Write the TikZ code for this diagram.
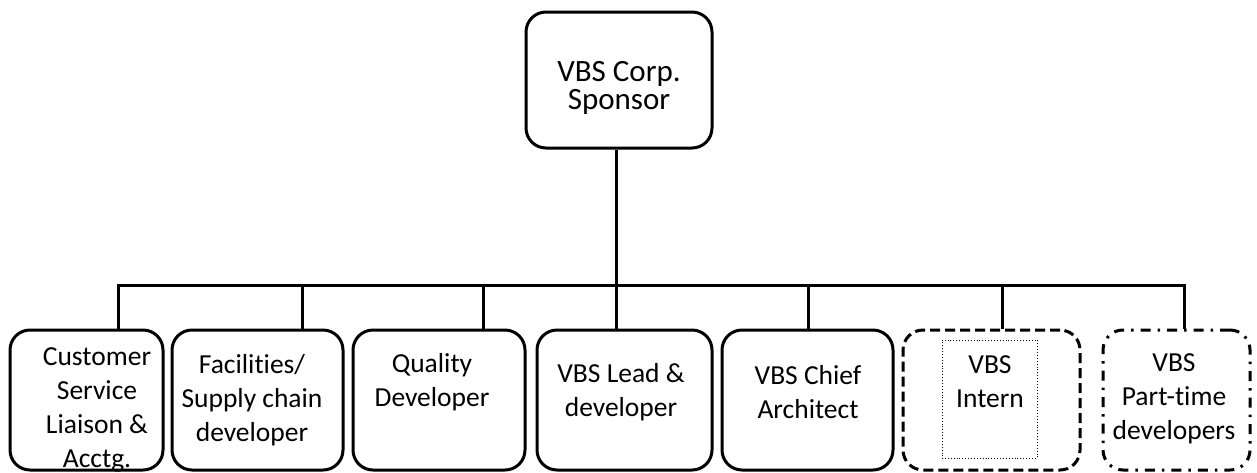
\documentclass[tikz,border=0pt]{standalone}
\usepackage{fontspec}
\setmainfont{Carlito}[Ligatures=NoCommon]
\begin{document}
\begin{tikzpicture}[x=1pt,y=-1pt,
  box/.style={draw=black,line width=3pt,rounded corners=20pt,inner sep=0pt},
  solidbox/.style={box},
  dashbox/.style={box,dash pattern=on 10pt off 5pt},
  dotdashbox/.style={box,dash pattern=on 10pt off 7pt on 2.5pt off 7pt},
  innerbox/.style={draw=black,line width=0.9pt,dotted,inner sep=0pt},
  wire/.style={draw=black,line width=3pt},
  toptext/.style={align=center,inner sep=0pt,font=\fontsize{31}{28.5}\selectfont},
  label/.style={align=center,inner sep=0pt,font=\fontsize{27.5}{34}\selectfont}]
\useasboundingbox (0,0) rectangle (1257,472);

% sponsor box
\node[solidbox,minimum width=186pt,minimum height=136pt] (top) at (619,80) {};
\node[toptext] (ttop) at (619,88) {VBS Corp.\\Sponsor};

% team boxes
\node[solidbox,minimum width=153pt,minimum height=140pt] (b1) at (86.5,400) {};
\node[solidbox,minimum width=171pt,minimum height=140pt] (b2) at (257.5,400) {};
\node[solidbox,minimum width=172pt,minimum height=140pt] (b3) at (439,400) {};
\node[solidbox,minimum width=175pt,minimum height=140pt] (b4) at (624.5,400) {};
\node[solidbox,minimum width=171pt,minimum height=140pt] (b5) at (807.5,400) {};
\node[dashbox,minimum width=177pt,minimum height=140pt] (b6) at (991.5,400) {};
\node[dotdashbox,minimum width=147pt,minimum height=140pt] (b7) at (1176.5,400) {};
\node[innerbox,minimum width=95pt,minimum height=118pt] (b6in) at (989.5,399) {};

% team labels
\node[label] (t1) at (97,410) {Customer\\Service\\Liaison \&\\Acctg.};
\node[label] (t2) at (252,400) {Facilities/\\Supply chain\\developer};
\node[label] (t3) at (432,382) {Quality\\Developer};
\node[label] (t4) at (621,392) {VBS Lead \&\\developer};
\node[label] (t5) at (808,392) {VBS Chief\\Architect};
\node[label] (t6) at (990,382) {VBS\\Intern};
\node[label] (t7) at (1174,399) {VBS\\Part-time\\developers};

% bus
\coordinate (busL) at (118,285);
\coordinate (busR) at (1184,285);
\coordinate (busM) at (616,285);
\draw[wire] (top.south -| busM) -- (busM);
\draw[wire,line cap=rect] (busL) -- (busR);
\foreach \n/\x in {1/118,2/302,3/483,4/616,5/808,6/1002,7/1184}{
  \coordinate (d\n) at (\x,285);
  \draw[wire] (d\n) -- (d\n |- b\n.north);
}
\end{tikzpicture}
\end{document}
